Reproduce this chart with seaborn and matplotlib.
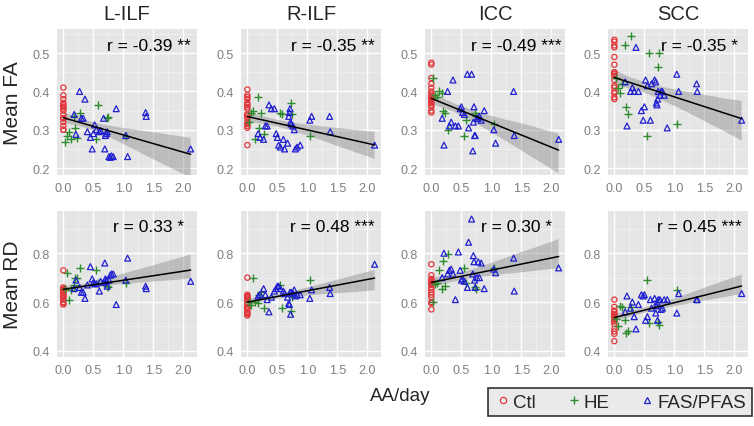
import numpy as np
import pandas as pd
import seaborn as sns
import matplotlib
matplotlib.use("Agg")
import matplotlib.pyplot as plt
from matplotlib.lines import Line2D

# tracts (columns) and measures (rows)
tracts = ["L-ILF", "R-ILF", "ICC", "SCC"]
measures = ["Mean FA", "Mean RD"]

# AA/day per subject, by group
ctl_x = [0.0] * 17
he_x = [0.03, 0.06, 0.10, 0.13, 0.17, 0.20, 0.22, 0.28, 0.55, 0.58, 0.72, 0.75, 1.05]
fas_x = [0.18, 0.21, 0.27, 0.30, 0.33, 0.36, 0.40, 0.45, 0.48, 0.50, 0.52, 0.55, 0.60, 0.62, 0.67,
         0.69, 0.70, 0.71, 0.72, 0.73, 0.76, 0.78, 0.80, 0.83, 0.88, 1.04, 1.07, 1.37, 1.38, 2.12]

# Mean FA
fa_ctl = {
    "L-ILF": [0.41, 0.39, 0.38, 0.37, 0.365, 0.36, 0.355, 0.35, 0.34, 0.33, 0.33, 0.32, 0.31, 0.30, 0.30, 0.33, 0.36],
    "R-ILF": [0.405, 0.39, 0.385, 0.37, 0.365, 0.36, 0.355, 0.34, 0.335, 0.33, 0.32, 0.315, 0.31, 0.305, 0.26, 0.34, 0.38],
    "ICC": [0.475, 0.47, 0.435, 0.42, 0.40, 0.395, 0.385, 0.38, 0.375, 0.37, 0.365, 0.36, 0.35, 0.345, 0.38, 0.39, 0.41],
    "SCC": [0.535, 0.53, 0.515, 0.49, 0.47, 0.45, 0.445, 0.44, 0.415, 0.41, 0.40, 0.395, 0.385, 0.38, 0.43, 0.45, 0.52],
}
fa_he = {
    "L-ILF": [0.268, 0.285, 0.295, 0.275, 0.335, 0.305, 0.278, 0.345, 0.275, 0.365, 0.33, 0.333, 0.285],
    "R-ILF": [0.32, 0.345, 0.35, 0.275, 0.385, 0.305, 0.345, 0.29, 0.345, 0.34, 0.37, 0.34, 0.285],
    "ICC": [0.435, 0.39, 0.385, 0.40, 0.395, 0.35, 0.345, 0.30, 0.285, 0.325, 0.345, 0.335, 0.315],
    "SCC": [0.435, 0.41, 0.395, 0.42, 0.52, 0.36, 0.34, 0.545, 0.285, 0.50, 0.465, 0.50, 0.315],
}
fa_fas = {
    "L-ILF": [0.34, 0.288, 0.40, 0.33, 0.33, 0.38, 0.295, 0.28, 0.25, 0.29, 0.313, 0.30, 0.295, 0.298, 0.33,
              0.25, 0.285, 0.29, 0.29, 0.295, 0.23, 0.228, 0.232, 0.23, 0.355, 0.285, 0.23, 0.345, 0.335, 0.25],
    "R-ILF": [0.29, 0.28, 0.275, 0.31, 0.31, 0.365, 0.355, 0.355, 0.29, 0.28, 0.26, 0.255, 0.275, 0.25, 0.265,
              0.335, 0.345, 0.355, 0.32, 0.315, 0.31, 0.30, 0.25, 0.255, 0.26, 0.325, 0.335, 0.335, 0.295, 0.26],
    "ICC": [0.33, 0.26, 0.40, 0.31, 0.32, 0.43, 0.31, 0.31, 0.355, 0.36, 0.345, 0.34, 0.445, 0.305, 0.445,
            0.245, 0.32, 0.36, 0.285, 0.285, 0.33, 0.33, 0.335, 0.325, 0.35, 0.30, 0.265, 0.40, 0.285, 0.275],
    "SCC": [0.425, 0.31, 0.40, 0.41, 0.40, 0.515, 0.40, 0.35, 0.325, 0.36, 0.43, 0.415, 0.325, 0.42, 0.43,
            0.425, 0.37, 0.365, 0.38, 0.40, 0.39, 0.40, 0.40, 0.39, 0.305, 0.445, 0.40, 0.42, 0.40, 0.325],
}

# Mean RD
rd_ctl = {
    "L-ILF": [0.73, 0.66, 0.655, 0.65, 0.645, 0.64, 0.635, 0.63, 0.625, 0.62, 0.61, 0.60, 0.595, 0.59, 0.65, 0.64, 0.62],
    "R-ILF": [0.70, 0.63, 0.625, 0.62, 0.615, 0.61, 0.60, 0.59, 0.58, 0.575, 0.57, 0.56, 0.555, 0.55, 0.545, 0.62, 0.58],
    "ICC": [0.755, 0.71, 0.695, 0.69, 0.685, 0.68, 0.675, 0.67, 0.66, 0.65, 0.64, 0.63, 0.62, 0.60, 0.595, 0.57, 0.68],
    "SCC": [0.61, 0.58, 0.565, 0.56, 0.55, 0.545, 0.54, 0.535, 0.53, 0.525, 0.52, 0.51, 0.49, 0.48, 0.47, 0.44, 0.55],
}
rd_he = {
    "L-ILF": [0.655, 0.72, 0.61, 0.65, 0.67, 0.70, 0.70, 0.74, 0.73, 0.68, 0.665, 0.66, 0.68],
    "R-ILF": [0.60, 0.59, 0.70, 0.60, 0.595, 0.63, 0.64, 0.575, 0.67, 0.575, 0.565, 0.62, 0.69],
    "ICC": [0.60, 0.675, 0.68, 0.73, 0.655, 0.77, 0.665, 0.795, 0.74, 0.68, 0.66, 0.655, 0.74],
    "SCC": [0.53, 0.50, 0.585, 0.58, 0.525, 0.475, 0.48, 0.58, 0.69, 0.515, 0.52, 0.505, 0.65],
}
rd_fas = {
    "L-ILF": [0.655, 0.69, 0.66, 0.64, 0.64, 0.615, 0.67, 0.745, 0.695, 0.68, 0.675, 0.675, 0.645, 0.685, 0.68,
              0.76, 0.695, 0.69, 0.685, 0.665, 0.69, 0.71, 0.715, 0.715, 0.59, 0.69, 0.78, 0.665, 0.655, 0.685],
    "R-ILF": [0.625, 0.63, 0.655, 0.63, 0.61, 0.56, 0.62, 0.645, 0.655, 0.665, 0.665, 0.655, 0.645, 0.635, 0.62,
              0.595, 0.59, 0.64, 0.55, 0.64, 0.635, 0.65, 0.625, 0.63, 0.63, 0.615, 0.65, 0.66, 0.635, 0.755],
    "ICC": [0.70, 0.80, 0.715, 0.73, 0.735, 0.715, 0.61, 0.805, 0.73, 0.69, 0.695, 0.685, 0.66, 0.845, 0.94,
            0.715, 0.79, 0.765, 0.69, 0.66, 0.70, 0.765, 0.70, 0.76, 0.655, 0.735, 0.72, 0.78, 0.645, 0.74],
    "SCC": [0.56, 0.625, 0.575, 0.60, 0.54, 0.49, 0.59, 0.63, 0.625, 0.63, 0.525, 0.54, 0.61, 0.575, 0.615,
            0.555, 0.585, 0.60, 0.525, 0.61, 0.61, 0.57, 0.575, 0.61, 0.61, 0.555, 0.635, 0.61, 0.61, 0.635],
}

r_labels = {
    "Mean FA": ["r = -0.39 **", "r = -0.35 **", "r = -0.49 ***", "r = -0.35 *"],
    "Mean RD": ["r = 0.33 *", "r = 0.48 ***", "r = 0.30 *", "r = 0.45 ***"],
}

groups = ["Ctl", "HE", "FAS/PFAS"]
colors = {"Ctl": "#E0383C", "HE": "#2E8B2E", "FAS/PFAS": "#2020D0"}

sns.set_theme(style="darkgrid", rc={
    "axes.facecolor": "#E5E5E5",
    "grid.color": "white",
    "grid.linewidth": 1.0,
    "xtick.color": "#7F7F7F",
    "ytick.color": "#7F7F7F",
})
plt.rcParams["font.family"] = ["Liberation Sans", "DejaVu Sans"]

fig = plt.figure(figsize=(7.54, 4.27), dpi=100)
W, H = 754, 427
col_left = [57, 241, 425, 608]
row_top = [30, 212]
pw, ph = 140, 146

ylims = {"Mean FA": (0.182, 0.563), "Mean RD": (0.375, 0.973)}
yticks = {"Mean FA": [0.2, 0.3, 0.4, 0.5], "Mean RD": [0.4, 0.6, 0.8]}
yminor = {"Mean FA": [0.25, 0.35, 0.45, 0.55], "Mean RD": [0.5, 0.7, 0.9]}
r_y = {"Mean FA": 0.52, "Mean RD": 0.91}
data_sets = {"Mean FA": (fa_ctl, fa_he, fa_fas), "Mean RD": (rd_ctl, rd_he, rd_fas)}

for ri, m in enumerate(measures):
    ctl_d, he_d, fas_d = data_sets[m]
    for ci, t in enumerate(tracts):
        ax = fig.add_axes([col_left[ci] / W, 1 - (row_top[ri] + ph) / H, pw / W, ph / H])
        df = pd.DataFrame({
            "x": ctl_x + he_x + fas_x,
            "y": ctl_d[t] + he_d[t] + fas_d[t],
            "group": ["Ctl"] * len(ctl_x) + ["HE"] * len(he_x) + ["FAS/PFAS"] * len(fas_x),
        })
        sns.regplot(data=df, x="x", y="y", ax=ax, scatter=False, seed=1,
                    line_kws={"color": "black", "lw": 1.1},
                    color="#808080")
        # confidence band like ggplot's default ribbon
        for coll in ax.collections:
            coll.set_alpha(None)
            coll.set_facecolor((0.5, 0.5, 0.5, 0.4))
            coll.set_edgecolor("none")
        sub = df[df.group == "Ctl"]
        sns.scatterplot(data=sub, x="x", y="y", ax=ax, marker="o", s=14,
                        facecolor="none", edgecolor=colors["Ctl"], color=colors["Ctl"], linewidth=0.9)
        sub = df[df.group == "HE"]
        sns.scatterplot(data=sub, x="x", y="y", ax=ax, marker="+", s=30,
                        color=colors["HE"], linewidth=1.0)
        sub = df[df.group == "FAS/PFAS"]
        sns.scatterplot(data=sub, x="x", y="y", ax=ax, marker="^", s=18,
                        facecolor="none", edgecolor=colors["FAS/PFAS"], color=colors["FAS/PFAS"], linewidth=0.9)

        ax.set_xlim(-0.106, 2.226)
        ax.set_ylim(*ylims[m])
        ax.set_xticks([0.0, 0.5, 1.0, 1.5, 2.0])
        ax.set_xticks([0.25, 0.75, 1.25, 1.75], minor=True)
        ax.set_yticks(yticks[m])
        ax.set_yticks(yminor[m], minor=True)
        ax.set_xticklabels(["0.0", "0.5", "1.0", "1.5", "2.0"])
        ax.set_yticklabels([f"{v:.1f}" for v in yticks[m]])
        ax.grid(which="minor", color="#F2F2F2", lw=0.5)
        ax.tick_params(which="major", length=3, width=0.8, color="#7F7F7F", labelsize=9, pad=2)
        ax.tick_params(which="minor", length=0)
        ax.set_xlabel("")
        ax.set_ylabel("")
        for s in ax.spines.values():
            s.set_visible(False)
        ax.text(1.42, r_y[m], r_labels[m][ci], ha="center", va="center", fontsize=12.5, color="black")
        if ri == 0:
            ax.set_title(t, fontsize=14.5, pad=7)
        if ci == 0:
            ax.set_ylabel(m, fontsize=15, labelpad=8)

fig.text(400 / W, 1 - 397 / H, "AA/day", ha="center", va="center", fontsize=13.5)

handles = [
    Line2D([], [], marker="o", ls="none", markerfacecolor="none", markeredgecolor=colors["Ctl"], markersize=4.5, mew=0.9),
    Line2D([], [], marker="+", ls="none", color=colors["HE"], markersize=6, mew=1.0),
    Line2D([], [], marker="^", ls="none", markerfacecolor="none", markeredgecolor=colors["FAS/PFAS"], markersize=5, mew=0.9),
]
leg = fig.legend(handles, groups, loc="center", bbox_to_anchor=(620 / W, 1 - 403 / H), ncol=3,
                 fontsize=13.5, frameon=True, fancybox=False, edgecolor="black",
                 handletextpad=0.05, columnspacing=1.5, handlelength=1.0, borderpad=0.3,
                 borderaxespad=0.0)
leg.get_frame().set_linewidth(1.2)

fig.savefig("out.png", dpi=100, facecolor="white")
